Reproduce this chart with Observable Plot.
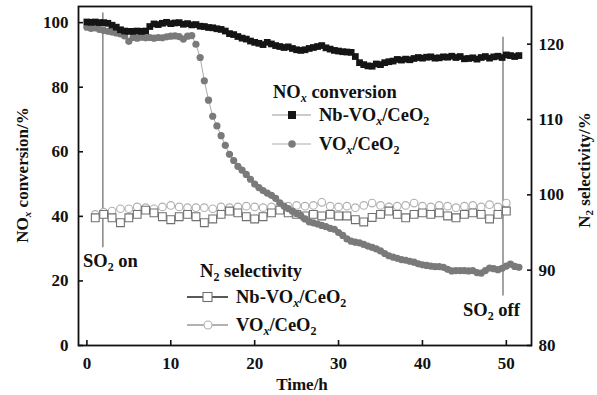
<!DOCTYPE html>
<html>
<head>
<meta charset="utf-8">
<script src="https://cdn.jsdelivr.net/npm/d3@7"></script>
<script src="https://cdn.jsdelivr.net/npm/@observablehq/plot@0.6"></script>
<style>
  html, body { margin: 0; padding: 0; background: #fff; }
  #wrap { position: relative; width: 597px; height: 395px; font-family: "Liberation Serif", "DejaVu Serif", serif; font-weight: bold; color: #111; }
  .t { position: absolute; font-size: 18.5px; line-height: 1; white-space: nowrap; transform: translateY(-50%); }
  .ax { font-size: 17px; }
  .rot { position: absolute; font-size: 17px; line-height: 1; white-space: nowrap; transform: translate(-50%, -50%) rotate(-90deg); }
  .sub { font-size: 0.65em; position: relative; top: 0.3em; }
  .it { font-style: italic; }
  svg.ov { position: absolute; left: 0; top: 0; pointer-events: none; }
</style>
</head>
<body>
<div id="wrap"></div>
<script>
// ---------- data ----------
const hours = [0,0.5,1,1.5,2,2.5,3,3.5,4,4.5,5,5.5,6,6.5,7,7.5,8,8.5,9,9.5,
  10,10.5,11,11.5,12,12.5,13,13.5,14,14.5,15,15.5,16,16.5,17,17.5,18,18.5,19,19.5,
  20,20.5,21,21.5,22,22.5,23,23.5,24,24.5,25,25.5,26,26.5,27,27.5,28,28.5,29,29.5,
  30,30.5,31,31.5,32,32.5,33,33.5,34,34.5,35,35.5,36,36.5,37,37.5,38,38.5,39,39.5,
  40,40.5,41,41.5,42,42.5,43,43.5,44,44.5,45,45.5,46,46.5,47,47.5,48,48.5,49,49.5,
  50,50.5,51,51.5];
const nbConversion = [100.2,100.1,100.2,100,100,99.8,99.2,98.6,97.8,97.4,
  97.3,97.3,97.4,97.3,97.4,98.8,99.6,99.4,99.8,100.1,
  99.7,99.9,100,99.5,99.7,99.3,99.4,98.9,98.8,98.5,
  98.4,98.1,97.9,97.4,96.6,96.3,95.7,95.2,94.9,94.3,
  93.9,93.6,93.2,93.9,93.4,92.9,92.6,92.3,92.5,92,
  91.6,91.4,91.6,92,92.3,92.6,92.9,92.2,91.8,91.4,
  91.2,91,90.9,90.8,89.5,87.6,87,86.6,86.5,87.2,
  87,87.6,87.9,88.1,88.6,88.4,88.7,88.5,88.9,89.2,
  89,89.3,89.4,89,89.1,89.4,89.3,89.6,89.2,89.5,
  88.8,88.9,89.1,88.7,89.2,89.5,89,89.4,89.6,89.2,
  90,89.8,89.5,89.8];
const voConversion = [98.6,98.2,98.4,97.9,97.6,97.3,97.1,96.8,96.5,95.9,
  94.2,95.4,95.2,95.5,95.3,95.4,95.2,95.4,95.3,95.6,
  95.8,95.9,95.7,94.9,95.8,96.0,93.3,89.2,82,76,
  71,68,65,62,59.2,57.3,55.5,54.3,53,51.5,
  50,48.9,48,47.2,46.5,45.6,44.2,43.2,42.4,41.6,
  40.8,40.2,39.2,38.3,38,37.6,37.2,36.8,36.3,36,
  35,34.1,33,32.3,32,31.8,31.3,30.8,30.4,29.9,
  29.3,28.5,27.8,27.4,27,26.6,26.4,26.1,25.8,25.3,
  25,24.8,24.6,24.4,24.4,24.2,23.6,23.1,23.2,23.2,
  23.2,23.1,23.2,22.6,22.4,23.2,24,23.8,23.5,23.9,
  24.6,25.2,24.5,24.2];
const selHours = [1,2,3,4,5,6,7,8,9,10,11,12,13,14,15,16,17,18,19,20,
  21,22,23,24,25,26,27,28,29,30,31,32,33,34,35,36,37,38,39,40,
  41,42,43,44,45,46,47,48,49,50];
const nbSelectivity = [96.95,97.4,96.95,96.3,96.95,97.4,97.97,97.6,97.1,96.7,
  97.1,97.4,97.1,96.3,96.8,97.4,97.85,97.6,97.1,96.8,
  97.1,97.6,97.97,97.6,97.4,97.2,97.4,97.2,97.4,97.2,
  97.2,96.7,96.4,97.0,97.4,97.85,97.4,96.95,97.4,97.6,
  97.4,97.6,97.2,96.95,97.4,97.6,97.4,96.8,97.4,97.85];
const voSelectivity = [97.4,97.7,97.84,98.15,98.15,98.4,98.3,98.15,98.4,98.6,
  98.4,98.3,98.3,98.3,98.15,98.4,98.3,98.4,98.5,98.4,
  98.3,98.4,98.6,98.5,98.6,98.5,98.6,99.0,98.5,98.4,
  98.5,98.3,98.6,98.9,98.6,98.4,98.5,98.6,98.9,98.5,
  98.4,98.6,98.5,98.3,98.5,98.6,98.4,98.7,98.4,98.9];
const xTicks = [0,10,20,30,40,50];
const leftTicks = [0,20,40,60,80,100];
const rightTicks = [80,90,100,110,120];
const eventHours = [1.9, 49.6];
const eventTop = [103, 95.5];
const eventBottom = [30.3, 15.3];

// ---------- scales helpers ----------
const leftDomain = [0, 105];
const rightDomain = [80, 125];
const toLeft = v => leftDomain[0] + (v - rightDomain[0]) * (leftDomain[1] - leftDomain[0]) / (rightDomain[1] - rightDomain[0]);
const fromLeft = y => rightDomain[0] + (y - leftDomain[0]) * (rightDomain[1] - rightDomain[0]) / (leftDomain[1] - leftDomain[0]);

const nbConv = hours.map((t, i) => ({t, v: nbConversion[i]}));
const voConv = hours.map((t, i) => ({t, v: voConversion[i]}));
const nbSel = selHours.map((t, i) => ({t, v: toLeft(nbSelectivity[i])}));
const voSel = selHours.map((t, i) => ({t, v: toLeft(voSelectivity[i])}));
const events = eventHours.map((t, i) => ({t, y1: eventTop[i], y2: eventBottom[i]}));

const chart = Plot.plot({
  width: 597,
  height: 395,
  marginLeft: 78,
  marginRight: 66,
  marginTop: 6,
  marginBottom: 50,
  style: {fontFamily: '"Liberation Serif", serif', fontSize: "17px", fontWeight: "bold", color: "#111", background: "#fff"},
  x: {domain: [-1, 53]},
  y: {domain: leftDomain},
  marks: [
    Plot.ruleX(events, {x: "t", y1: "y1", y2: "y2", stroke: "#8c8c8c", strokeWidth: 1.6}),
    Plot.line(voSel, {x: "t", y: "v", stroke: "#b5b5b5", strokeWidth: 1}),
    Plot.dot(voSel, {x: "t", y: "v", symbol: "circle", r: 3.8, stroke: "#b0b0b0", fill: "#fff", strokeWidth: 1.1}),
    Plot.line(nbSel, {x: "t", y: "v", stroke: "#777", strokeWidth: 1}),
    Plot.dot(nbSel, {x: "t", y: "v", symbol: "square", r: 4.4, stroke: "#707070", fill: "#fff", strokeWidth: 1.1}),
    Plot.line(voConv, {x: "t", y: "v", stroke: "#aaa", strokeWidth: 1}),
    Plot.dot(voConv, {x: "t", y: "v", symbol: "circle", r: 3.6, fill: "#7a7a7a", stroke: "none"}),
    Plot.line(nbConv, {x: "t", y: "v", stroke: "#333", strokeWidth: 1}),
    Plot.dot(nbConv, {x: "t", y: "v", symbol: "square", r: 3.8, fill: "#151515", stroke: "none"}),
    Plot.frame({stroke: "#111", strokeWidth: 1.8}),
    Plot.axisX({ticks: xTicks, tickSize: -5, tickPadding: 16, label: null, strokeWidth: 1.6}),
    Plot.axisY({ticks: leftTicks, tickSize: -5, tickPadding: 15, label: null, strokeWidth: 1.6}),
    Plot.axisY({anchor: "right", ticks: rightTicks.map(toLeft), tickFormat: d => String(Math.round(fromLeft(d))), tickSize: -5, tickPadding: 12, label: null, strokeWidth: 1.6})
  ]
});

const wrap = document.getElementById("wrap");
wrap.appendChild(chart);

// ---------- text overlay (axis titles, legends, annotations) ----------
const sub = s => `<span class="sub">${s}</span>`;
const subX = `<span class="sub it">x</span>`;
const html = `
  <div class="rot" style="left:22px;top:175px">NO${subX} conversion/%</div>
  <div class="rot" style="left:584px;top:170px">N${sub("2")} selectivity/%</div>
  <div class="t ax" style="left:302px;top:384px;transform:translate(-50%,-50%)">Time/h</div>
  <div class="t" style="left:273px;top:92px">NO${subX} conversion</div>
  <div class="t" style="left:319px;top:115px">Nb-VO${subX}/CeO${sub("2")}</div>
  <div class="t" style="left:319px;top:144px">VO${subX}/CeO${sub("2")}</div>
  <div class="t" style="left:200px;top:271px">N${sub("2")} selectivity</div>
  <div class="t" style="left:236px;top:297px">Nb-VO${subX}/CeO${sub("2")}</div>
  <div class="t" style="left:236px;top:325px">VO${subX}/CeO${sub("2")}</div>
  <div class="t" style="left:83px;top:261px">SO${sub("2")} on</div>
  <div class="t" style="left:463px;top:310px">SO${sub("2")} off</div>
`;
wrap.insertAdjacentHTML("beforeend", html);

const ns = "http://www.w3.org/2000/svg";
const ov = document.createElementNS(ns, "svg");
ov.setAttribute("class", "ov");
ov.setAttribute("width", 597);
ov.setAttribute("height", 395);
ov.innerHTML = `
  <line x1="272" x2="311" y1="115" y2="115" stroke="#999" stroke-width="1.2"/>
  <rect x="288" y="111" width="8" height="8" fill="#151515"/>
  <line x1="272" x2="311" y1="144" y2="144" stroke="#aaa" stroke-width="1.2"/>
  <circle cx="292" cy="144" r="3.8" fill="#7a7a7a"/>
  <line x1="187" x2="228" y1="297" y2="297" stroke="#222" stroke-width="1.4"/>
  <rect x="203" y="292.5" width="9" height="9" fill="#fff" stroke="#707070" stroke-width="1.1"/>
  <line x1="187" x2="228" y1="325" y2="325" stroke="#999" stroke-width="1.4"/>
  <circle cx="208" cy="325" r="4" fill="#fff" stroke="#b0b0b0" stroke-width="1.1"/>
`;
wrap.appendChild(ov);
</script>
</body>
</html>
